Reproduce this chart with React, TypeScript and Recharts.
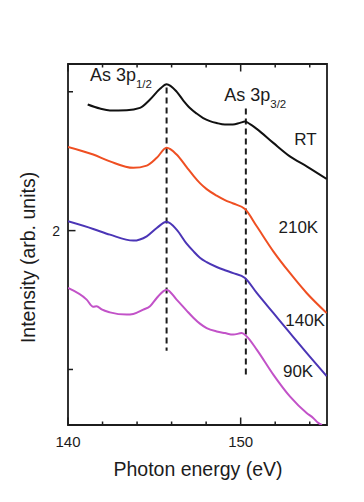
import React from 'react';
import { LineChart, Line, XAxis, YAxis, ReferenceLine, ReferenceArea, ReferenceDot } from 'recharts';

// ---- axis ticks ----
const energyTicks = [140, 142, 144, 146, 148, 150, 152, 154];
const energyLabels = [140, 150];
const intensityTicks = [1, 2, 3];
const intensityLabels = [2];

// ---- series ----
const rtEnergy = [141.14, 141.85, 142.43, 143.4, 144.17, 144.75, 145.33, 145.71, 146.29, 146.68, 147.06, 147.45, 147.83, 148.22, 148.61, 149.09, 149.55, 149.96, 150.25, 150.54, 150.93, 151.89, 152.85, 153.82, 154.98];
const rtIntensity = [2.908, 2.879, 2.865, 2.867, 2.884, 2.944, 3.021, 3.054, 3.001, 2.937, 2.883, 2.843, 2.811, 2.789, 2.775, 2.764, 2.764, 2.776, 2.785, 2.767, 2.733, 2.632, 2.535, 2.463, 2.372];

const tEnergy = [140.0, 141.46, 142.43, 143.78, 144.56, 145.14, 145.71, 146.29, 146.87, 147.26, 147.64, 148.03, 148.61, 149.09, 149.57, 150.25, 150.93, 151.89, 152.85, 153.82, 154.98];
const k210Intensity = [2.603, 2.548, 2.499, 2.452, 2.468, 2.524, 2.596, 2.548, 2.457, 2.396, 2.342, 2.299, 2.252, 2.22, 2.195, 2.156, 2.031, 1.851, 1.695, 1.551, 1.407];
const k140Intensity = [2.067, 2.012, 1.971, 1.928, 1.959, 2.019, 2.063, 2.007, 1.906, 1.852, 1.805, 1.773, 1.738, 1.715, 1.694, 1.659, 1.551, 1.407, 1.263, 1.119, 0.952];

const k90Energy = [140.0, 141.08, 141.46, 141.66, 141.95, 142.43, 143.4, 143.78, 144.36, 144.75, 145.14, 145.71, 146.29, 146.87, 147.26, 147.64, 148.03, 148.61, 149.09, 149.57, 150.06, 150.35, 150.93, 151.89, 152.85, 153.82, 154.2, 154.49, 154.71];
const k90Intensity = [1.587, 1.503, 1.452, 1.456, 1.432, 1.411, 1.395, 1.4, 1.431, 1.455, 1.515, 1.575, 1.503, 1.424, 1.373, 1.33, 1.298, 1.274, 1.262, 1.251, 1.262, 1.238, 1.143, 0.963, 0.806, 0.687, 0.651, 0.615, 0.6];

// ---- peak markers (energy, top intensity, bottom intensity) ----
const peakEnergies = [145.71, 150.3];
const peakTops = [3.03, 2.879];
const peakBottoms = [1.135, 0.948];

const toPoints = (es: number[], vs: number[]) => es.map((e, i) => ({ e, v: vs[i] }));

const rtData = toPoints(rtEnergy, rtIntensity);
const k210Data = toPoints(tEnergy, k210Intensity);
const k140Data = toPoints(tEnergy, k140Intensity);
const k90Data = toPoints(k90Energy, k90Intensity);

const FONT = '"Liberation Sans", Arial, Helvetica, sans-serif';
const INK = '#1c1c1c';

const BottomTick = (props: any) => {
  const { x, y, payload } = props;
  const major = energyLabels.includes(payload.value);
  return (
    <g>
      <line x1={x} x2={x} y1={y} y2={y - (major ? 7.5 : 3.5)} stroke={INK} strokeWidth={1.5} />
      {major && (
        <text x={x} y={y + 21.5} textAnchor="middle" fontFamily={FONT} fontSize={15} fill={INK}>
          {payload.value}
        </text>
      )}
    </g>
  );
};

const TopTick = (props: any) => {
  const { x, y, payload } = props;
  const major = energyLabels.includes(payload.value);
  return <line x1={x} x2={x} y1={y} y2={y + (major ? 7.5 : 3.5)} stroke={INK} strokeWidth={1.5} />;
};

const LeftTick = (props: any) => {
  const { x, y, payload } = props;
  const major = intensityLabels.includes(payload.value);
  return (
    <g>
      <line x1={x} x2={x + (major ? 7.5 : 5)} y1={y} y2={y} stroke={INK} strokeWidth={1.5} />
      {major && (
        <text x={x - 8} y={y + 5} textAnchor="end" fontFamily={FONT} fontSize={14} fill={INK}>
          {payload.value}
        </text>
      )}
    </g>
  );
};

const yTitle = (p: any) => {
  const vb = p.viewBox || { x: 0, y: 56, width: 60, height: 361 };
  const cx = vb.x + 26.5;
  const cy = vb.y + vb.height / 2 + 13;
  return (
    <text x={cx} y={cy} transform={`rotate(-90, ${cx}, ${cy})`} textAnchor="middle" fontFamily={FONT} fontSize={19.5} fill={INK}>
      Intensity (arb. units)
    </text>
  );
};

const xTitle = (p: any) => {
  const vb = p.viewBox || { x: 60, y: 417, width: 259, height: 69 };
  const cx = vb.x + vb.width / 2 + 0.5;
  const cy = vb.y + 51;
  return (
    <text x={cx} y={cy} textAnchor="middle" fontFamily={FONT} fontSize={19.5} fill={INK}>
      Photon energy (eV)
    </text>
  );
};

const peakLabel = (sub: string) => (p: any) => (
  <text x={p.cx} y={p.cy} fontFamily={FONT} fontSize={18} fill={INK}>
    As 3p
    <tspan fontSize={11.5} dy={7}>{sub}</tspan>
  </text>
);

const tempLabel = (t: string) => (p: any) => (
  <text x={p.cx} y={p.cy} textAnchor="end" fontFamily={FONT} fontSize={17} fill={INK}>
    {t}
  </text>
);

export default function App() {
  return (
    <div style={{ background: '#fff', width: 348, height: 486 }}>
      <LineChart width={348} height={486} margin={{ top: 55, right: 29, left: 0, bottom: 0 }}>
        <XAxis
          dataKey="e"
          type="number"
          domain={[140, 155]}
          ticks={energyTicks}
          allowDataOverflow
          height={69}
          axisLine={false}
          tickLine={false}
          tickSize={0}
          tickMargin={0}
          tick={<BottomTick />}
          interval={0}
          label={{ content: xTitle }}
        />
        <XAxis
          xAxisId="top"
          orientation="top"
          dataKey="e"
          type="number"
          domain={[140, 155]}
          ticks={energyTicks}
          allowDataOverflow
          height={1}
          axisLine={false}
          tickLine={false}
          tickSize={0}
          tickMargin={0}
          tick={<TopTick />}
          interval={0}
        />
        <YAxis
          type="number"
          domain={[0.6, 3.2]}
          ticks={intensityTicks}
          allowDataOverflow
          width={60}
          axisLine={false}
          tickLine={false}
          tickSize={0}
          tickMargin={0}
          tick={<LeftTick />}
          interval={0}
          label={{ content: yTitle }}
        />
        <ReferenceArea x1={140} x2={155} y1={0.6} y2={3.2} fill="none" fillOpacity={0} stroke={INK} strokeWidth={1.8} ifOverflow="visible" />
        {peakEnergies.map((e, i) => (
          <ReferenceLine
            key={i}
            segment={[{ x: e, y: peakTops[i] }, { x: e, y: peakBottoms[i] }]}
            stroke={INK}
            strokeWidth={2}
            strokeDasharray="6 4"
          />
        ))}
        <Line data={rtData} dataKey="v" type="monotone" stroke="#111111" strokeWidth={2} dot={false} isAnimationActive={false} />
        <Line data={k210Data} dataKey="v" type="monotone" stroke="#ef4f22" strokeWidth={2} dot={false} isAnimationActive={false} />
        <Line data={k140Data} dataKey="v" type="monotone" stroke="#4b35b6" strokeWidth={2} dot={false} isAnimationActive={false} />
        <Line data={k90Data} dataKey="v" type="monotone" stroke="#c252c8" strokeWidth={2} dot={false} isAnimationActive={false} />
        <ReferenceDot x={141.27} y={3.076} r={0} shape={peakLabel('1/2')} />
        <ReferenceDot x={149.05} y={2.937} r={0} shape={peakLabel('3/2')} />
        <ReferenceDot x={154.4} y={2.62} r={0} shape={tempLabel('RT')} />
        <ReferenceDot x={154.49} y={1.983} r={0} shape={tempLabel('210K')} />
        <ReferenceDot x={154.88} y={1.311} r={0} shape={tempLabel('140K')} />
        <ReferenceDot x={154.2} y={0.946} r={0} shape={tempLabel('90K')} />
      </LineChart>
    </div>
  );
}
